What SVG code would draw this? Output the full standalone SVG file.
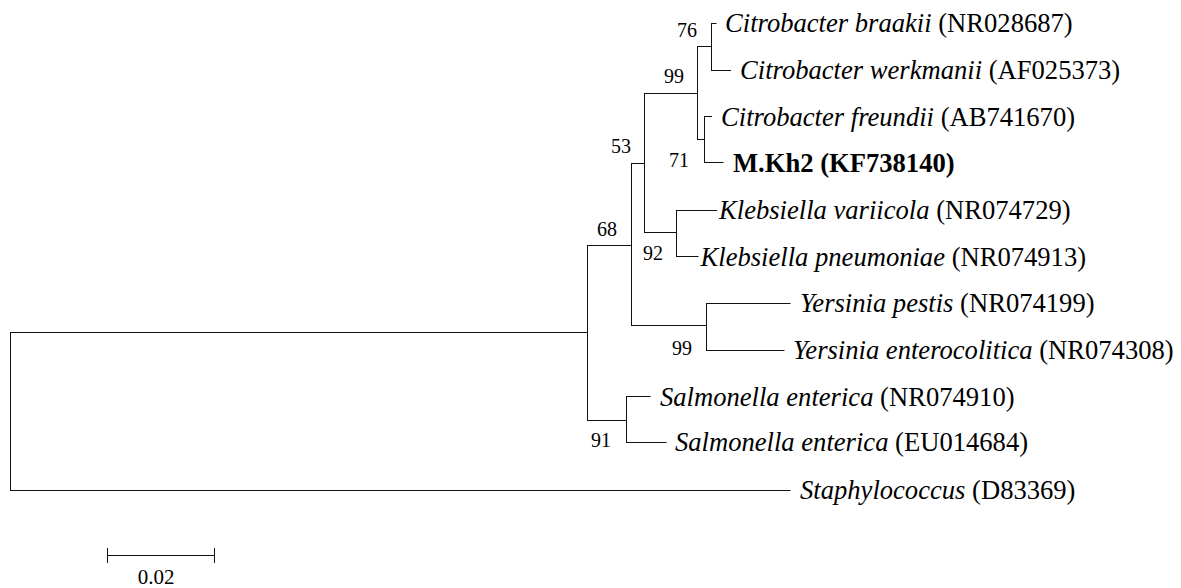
<svg xmlns="http://www.w3.org/2000/svg" width="1181" height="588" viewBox="0 0 1181 588">
<style>
.br{fill:none;stroke:#111;stroke-width:1;stroke-linecap:square}
.tip{font-family:"Liberation Serif","Times New Roman",serif;font-size:26.6px;fill:#000}
.sp{font-style:italic}
.bs{font-family:"Liberation Serif","Times New Roman",serif;font-size:20px;fill:#000;text-anchor:end}
.sc{font-family:"Liberation Serif","Times New Roman",serif;font-size:21px;fill:#000;text-anchor:middle}
</style>
<rect width="1181" height="588" fill="#fff"/>
<g id="connectors">
<path class="br" d="M10.5,332.5V410.5M10.5,411.5V490.5M10.5,332.5H587.5M10.5,490.5H790
M587.5,245.5V420.5M587.5,420.5H626.5M626.5,396.5V442.5M626.5,396.5H650M626.5,442.5H666
M587.5,245.5H631.5M631.5,163.5V325.5
M631.5,325.5H706.5M706.5,303.5V350.5M706.5,303.5H790M706.5,350.5H784
M631.5,163.5H644.5M644.5,93.5V232.5
M644.5,232.5H676.5M676.5,210.5V256.5M676.5,210.5H716.5M676.5,256.5H698
M644.5,93.5H697.5M697.5,46.5V139.5
M697.5,46.5H711.5M711.5,23.5V70.5M711.5,23.5H716M711.5,70.5H730.5
M697.5,139.5H704.5M704.5,116.5V162.5M704.5,116.5H711.5M704.5,162.5H723"/>
</g>
<g id="tip-braakii"><text class="tip" x="725" y="32"><tspan class="sp">Citrobacter braakii</tspan> (NR028687)</text></g>
<g id="tip-werkmanii"><text class="tip" x="740" y="79"><tspan class="sp">Citrobacter werkmanii</tspan> (AF025373)</text></g>
<g id="tip-freundii"><text class="tip" x="721" y="126"><tspan class="sp">Citrobacter freundii</tspan> (AB741670)</text></g>
<g id="tip-mkh2"><text class="tip" x="733" y="172" font-weight="bold">M.Kh2 (KF738140)</text></g>
<g id="tip-variicola"><text class="tip" x="719" y="219"><tspan class="sp">Klebsiella variicola</tspan> (NR074729)</text></g>
<g id="tip-pneumoniae"><text class="tip" x="700.5" y="266"><tspan class="sp">Klebsiella pneumoniae</tspan> (NR074913)</text></g>
<g id="tip-pestis"><text class="tip" x="800" y="312"><tspan class="sp">Yersinia pestis</tspan> (NR074199)</text></g>
<g id="tip-enterocolitica"><text class="tip" x="793" y="359"><tspan class="sp">Yersinia enterocolitica</tspan> (NR074308)</text></g>
<g id="tip-salmonella1"><text class="tip" x="660" y="406"><tspan class="sp">Salmonella enterica</tspan> (NR074910)</text></g>
<g id="tip-salmonella2"><text class="tip" x="675" y="451"><tspan class="sp">Salmonella enterica</tspan> (EU014684)</text></g>
<g id="tip-staph"><text class="tip" x="800" y="499"><tspan class="sp">Staphylococcus</tspan> (D83369)</text></g>
<g id="bootstrap">
<text class="bs" x="697" y="37">76</text>
<text class="bs" x="684" y="83">99</text>
<text class="bs" x="689" y="167">71</text>
<text class="bs" x="631" y="153">53</text>
<text class="bs" x="617" y="236">68</text>
<text class="bs" x="663" y="260">92</text>
<text class="bs" x="692" y="355">99</text>
<text class="bs" x="611" y="447">91</text>
</g>
<g id="scale-bar">
<path class="br" d="M107.5,555.5H214.5M107.5,548.5V562.5M214.5,548.5V562.5"/>
<text class="sc" x="156" y="584">0.02</text>
</g>
</svg>
